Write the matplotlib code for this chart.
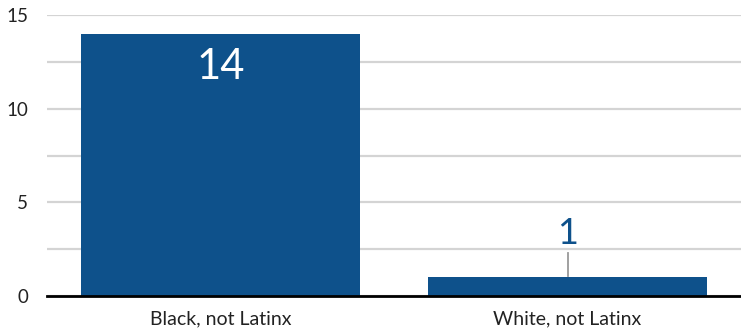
import matplotlib.pyplot as plt

categories = ['Black, not Latinx', 'White, not Latinx']
counts = [14, 1]

BAR_COLOR = '#0e518b'
W, H = 741, 332

plt.rcParams['font.family'] = ['Lato', 'DejaVu Sans']

fig = plt.figure(figsize=(W / 100, H / 100), dpi=100)
ax = fig.add_axes([47 / W, 36 / H, (W - 47) / W, (296 - 15) / H])

x = range(len(categories))
bars = ax.bar(x, counts, width=0.805, color=BAR_COLOR, zorder=3)

ax.set_xlim(-0.5, len(categories) - 0.5)
ax.set_ylim(0, 15)
ax.set_yticks([0, 5, 10, 15])
ax.set_yticks([2.5, 7.5, 12.5], minor=True)
ax.set_xticks(list(x))
ax.set_xticklabels(categories, fontsize=14, color='#222222')
ax.tick_params(axis='y', which='both', length=0, pad=13.5, labelsize=13.5, labelcolor='#222222')
ax.tick_params(axis='x', length=0, pad=10.5)

ax.grid(axis='y', which='both', color='#d4d4d4', linewidth=1.6, zorder=0)
for side in ['top', 'right', 'left']:
    ax.spines[side].set_visible(False)
ax.spines['bottom'].set_linewidth(2)
ax.spines['bottom'].set_color('black')
ax.spines['bottom'].set_zorder(4)

# value labels: inside tall bars, above short bars with a leader line
for xi, v in zip(x, counts):
    if v >= 5:
        ax.text(xi, v - 0.75, str(v), ha='center', va='top', color='white', fontsize=30)
    else:
        ax.plot([xi, xi], [v + 0.05, v + 1.3], color='#999999', lw=1.3, zorder=4)
        ax.text(xi, v + 1.45, str(v), ha='center', va='bottom', color=BAR_COLOR, fontsize=26)

fig.savefig('out.png', dpi=100)
